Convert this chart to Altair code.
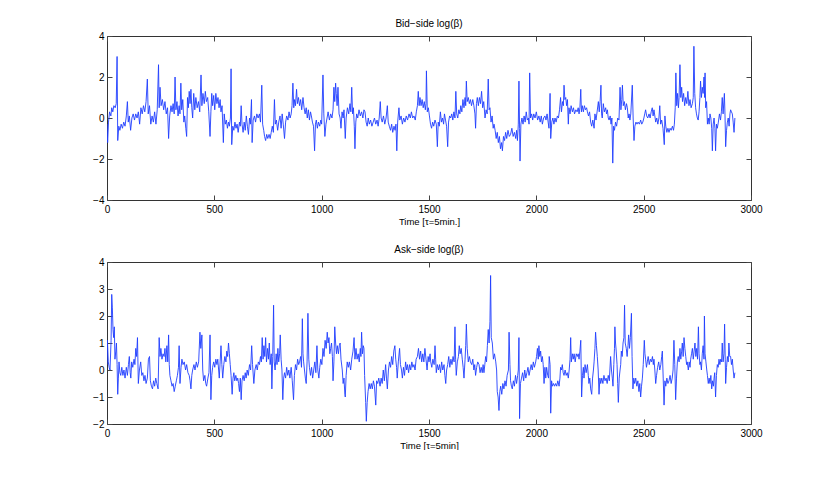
import altair as alt
import pandas as pd

# (time index, log(beta))
bid_points = [
    (0, -0.3), (3, -1.2), (7, -0.2), (12, 0.3), (18, 0.1), (22, 0.5), (27, 0.3), (32, 0.6), (38, 0.5), (43, 0.7),
    (47, 3.0), (50, -1.1), (55, -0.4), (60, -0.6), (66, -0.3), (72, -0.5), (78, -0.2), (84, -0.4), (90, 0.1), (95, 0.8),
    (99, -0.2), (104, 0.1), (110, -0.6), (116, 0.0), (122, 0.2), (128, -0.1), (134, 0.2), (140, 0.0), (146, 0.3), (152, -0.3),
    (158, 0.5), (164, 0.2), (170, 0.6), (176, 0.3), (182, 0.8), (188, 1.9), (192, 0.2), (198, 0.6), (204, -0.3), (210, 0.1),
    (216, -0.2), (222, 0.3), (228, -0.3), (234, 0.4), (240, 2.6), (243, 0.5), (247, 1.5), (252, 0.6), (258, 0.9), (264, 0.4),
    (270, 0.8), (276, 0.2), (282, 0.5), (287, -1.0), (292, 0.1), (298, 0.6), (303, 0.3), (308, 0.7), (313, 0.2), (317, 2.0),
    (321, 0.4), (326, 0.8), (331, 0.1), (336, 0.6), (340, 0.2), (344, 1.7), (348, 0.4), (353, 0.9), (358, -0.2), (362, 0.1),
    (367, -0.5), (371, -0.9), (375, 1.0), (379, 0.5), (383, 1.3), (387, 0.7), (391, 1.4), (395, 0.5), (399, 0.0), (404, 1.2),
    (409, 0.4), (414, 1.0), (420, 0.5), (426, 0.8), (432, 0.3), (438, 2.1), (442, 0.6), (447, 1.2), (453, 0.7), (458, 1.3),
    (463, 0.8), (469, 1.0), (474, 0.3), (480, -0.9), (484, 0.3), (488, 1.2), (492, 0.6), (497, 1.1), (502, 0.4), (507, 1.2),
    (512, 0.7), (517, 1.0), (522, 0.5), (527, 0.9), (531, 0.3), (536, 0.6), (542, -1.2), (546, 0.2), (551, -0.3), (556, -0.1),
    (561, -0.5), (566, -0.2), (570, -0.4), (575, 0.0), (578, 2.4), (581, -1.3), (586, -0.4), (591, -0.6), (596, -0.2), (601, -0.5),
    (606, -0.3), (611, -0.7), (617, -0.2), (621, -0.4), (625, 0.6), (629, -0.3), (634, -0.7), (639, -0.2), (644, -0.6), (649, 0.1),
    (654, -0.4), (659, -0.8), (664, 0.0), (668, -0.3), (673, 0.9), (676, -1.2), (681, -0.1), (687, 0.1), (692, -0.2), (698, 0.2),
    (704, 0.0), (710, 0.2), (715, -0.2), (721, 1.6), (725, -0.3), (730, -0.6), (734, -0.9), (739, -1.1), (744, -0.8), (749, -1.0),
    (755, -0.8), (760, -1.0), (765, -0.7), (770, -0.4), (775, -0.7), (780, 0.9), (784, -0.3), (789, -0.1), (795, -0.6), (800, -0.2),
    (806, 0.1), (811, -0.5), (816, 0.2), (821, -0.3), (827, -1.0), (832, -0.2), (837, 0.1), (843, -0.1), (848, 0.3), (853, 0.0),
    (858, 0.2), (862, 0.6), (866, 1.7), (870, 0.5), (874, 0.9), (878, 0.6), (883, 1.4), (887, 0.7), (892, 1.0), (897, 0.6),
    (902, 0.9), (907, 0.4), (913, 1.0), (918, 0.5), (923, 0.2), (928, 0.5), (933, 0.0), (938, 0.4), (943, -0.1), (948, 0.3),
    (952, 0.1), (957, -0.2), (962, -0.4), (967, -1.6), (971, -0.3), (975, -0.1), (980, -0.5), (985, -0.2), (991, -0.4), (996, -0.1),
    (1000, -0.3), (1006, 2.1), (1010, 0.2), (1015, -0.9), (1020, -0.3), (1025, 0.0), (1030, 0.3), (1036, -0.1), (1042, 0.2), (1048, 0.0),
    (1053, 0.4), (1057, 1.5), (1061, 0.8), (1065, 1.7), (1068, 1.2), (1072, 0.6), (1076, 1.5), (1081, 0.2), (1086, 0.0), (1090, -0.5),
    (1095, 0.3), (1100, 0.0), (1104, 0.4), (1110, -1.0), (1114, 0.0), (1120, 0.5), (1126, 0.2), (1132, 0.7), (1136, 0.3), (1140, 1.5),
    (1144, 0.2), (1148, 0.5), (1152, -0.4), (1155, -1.5), (1159, -0.2), (1163, 0.2), (1168, 0.0), (1174, 0.4), (1180, 0.1), (1186, 0.3),
    (1192, 0.0), (1197, 0.4), (1202, 0.3), (1207, -0.2), (1212, -0.4), (1217, 0.0), (1222, -0.3), (1228, -0.1), (1234, -0.4), (1240, -0.2),
    (1246, 0.0), (1252, -0.3), (1258, -0.1), (1263, -0.4), (1268, 0.0), (1273, 0.8), (1277, 0.0), (1282, -0.2), (1288, 0.1), (1294, -0.3),
    (1300, 0.0), (1306, 0.6), (1310, -0.2), (1315, -0.4), (1321, -0.6), (1326, -0.3), (1331, -0.7), (1337, -0.4), (1342, -0.6), (1346, -0.3),
    (1350, -1.6), (1354, -0.2), (1360, 0.5), (1364, -0.1), (1370, 0.1), (1376, -0.3), (1382, 0.0), (1388, -0.2), (1394, 0.1), (1400, -0.1),
    (1407, 0.2), (1413, 0.0), (1418, 0.3), (1424, 0.0), (1430, 0.1), (1436, -0.1), (1441, 0.3), (1446, 0.6), (1450, 1.3), (1454, 0.6),
    (1458, 1.0), (1463, 0.6), (1468, 0.9), (1473, 0.5), (1478, 0.8), (1483, 0.4), (1486, 0.7), (1488, 2.3), (1492, 0.3), (1497, 0.5),
    (1502, 0.1), (1507, -0.3), (1512, -0.5), (1517, -0.2), (1522, -0.4), (1528, -0.1), (1534, -0.3), (1539, -1.4), (1543, -0.2), (1548, -0.4),
    (1553, 0.3), (1558, -0.2), (1563, 0.0), (1568, -0.3), (1572, 0.2), (1577, -0.1), (1582, -0.4), (1587, -1.4), (1591, -0.2), (1596, 0.1),
    (1601, 0.0), (1606, 0.2), (1611, -0.1), (1616, 0.3), (1621, 0.0), (1625, 1.3), (1629, 0.2), (1634, 0.0), (1639, 0.4), (1644, 0.2),
    (1648, 0.6), (1653, 0.3), (1658, 0.9), (1663, 0.5), (1668, 1.0), (1671, 0.6), (1674, 1.8), (1678, 0.8), (1683, 1.0), (1688, 0.7),
    (1693, 0.9), (1698, 0.6), (1704, 0.9), (1709, 0.6), (1714, 0.2), (1717, -0.5), (1721, 0.7), (1725, 1.0), (1730, 0.6), (1735, 1.0),
    (1740, 0.7), (1745, 1.3), (1750, 0.5), (1755, 0.8), (1761, 0.0), (1766, 0.4), (1771, 0.2), (1776, 1.9), (1780, 0.4), (1784, 0.5),
    (1789, -0.2), (1794, 0.1), (1799, -0.5), (1803, -0.3), (1808, -0.6), (1813, -1.0), (1818, -0.7), (1823, -1.2), (1828, -0.9), (1833, -1.5),
    (1838, -1.2), (1842, -1.6), (1847, -0.9), (1852, -1.1), (1857, -0.7), (1862, -1.0), (1868, -0.6), (1874, -0.9), (1880, -0.8), (1886, -0.5),
    (1892, -0.9), (1898, -0.7), (1904, -1.0), (1908, -0.6), (1912, -1.1), (1916, -0.3), (1919, 1.8), (1922, -0.5), (1924, -2.1), (1928, -0.3),
    (1933, 0.0), (1938, -0.3), (1943, 0.1), (1948, -0.2), (1953, 0.3), (1958, -0.1), (1963, 0.0), (1966, -0.3), (1969, 2.2), (1973, 0.0),
    (1978, 0.2), (1983, -0.1), (1988, 0.2), (1994, 0.0), (2000, 0.3), (2006, -0.1), (2012, 0.1), (2018, -0.2), (2023, 0.1), (2028, -0.3),
    (2034, 0.0), (2040, 0.1), (2045, -0.1), (2050, 0.2), (2055, -0.2), (2059, -0.5), (2064, 1.2), (2067, -1.0), (2072, -0.2), (2077, 0.0),
    (2082, -0.3), (2087, 0.0), (2092, -0.2), (2098, 0.1), (2103, 0.0), (2108, 0.4), (2113, 1.0), (2117, 0.3), (2122, 0.8), (2126, 0.6),
    (2129, 1.6), (2133, 0.9), (2137, 1.0), (2141, 0.6), (2145, 0.9), (2149, -0.3), (2152, 0.5), (2157, 0.2), (2162, 0.6), (2168, 0.3),
    (2173, 0.5), (2178, 0.2), (2184, 0.4), (2190, 0.3), (2195, 0.5), (2199, 0.2), (2203, 0.5), (2207, 1.4), (2210, 0.3), (2214, 0.6),
    (2219, 0.3), (2224, 0.6), (2229, 0.4), (2234, 0.5), (2238, 0.3), (2243, 0.1), (2248, 0.3), (2253, -0.2), (2258, -0.4), (2263, -0.1),
    (2269, -0.5), (2273, 0.2), (2278, -0.1), (2283, 0.3), (2289, 0.8), (2293, 0.3), (2297, 0.8), (2301, 1.6), (2304, 0.2), (2307, 0.0),
    (2312, 0.7), (2317, 0.3), (2323, 0.5), (2327, 0.2), (2331, 0.4), (2335, 0.0), (2339, -0.1), (2344, 0.1), (2348, -0.3), (2352, 0.0),
    (2356, -2.2), (2360, -0.4), (2364, -0.6), (2369, -0.2), (2374, -0.4), (2379, 0.0), (2385, -0.1), (2390, 1.5), (2394, 0.4), (2398, 0.9),
    (2401, 1.6), (2405, 0.6), (2410, 0.8), (2415, 0.4), (2420, 0.7), (2424, 0.5), (2428, 0.0), (2432, 0.2), (2436, -0.1), (2440, 0.2),
    (2447, 1.6), (2451, 0.0), (2455, -1.1), (2459, -0.4), (2464, -0.2), (2469, -0.3), (2474, -0.2), (2480, -0.3), (2486, -0.1), (2491, -0.3),
    (2496, -0.2), (2501, 0.0), (2505, 0.2), (2509, 0.4), (2514, 0.1), (2519, 0.0), (2525, 0.2), (2530, 0.0), (2535, 0.3), (2540, 0.5),
    (2544, 0.1), (2548, 0.4), (2552, 0.1), (2556, -0.2), (2561, 0.0), (2566, -0.3), (2571, 0.0), (2575, 0.6), (2579, -0.3), (2584, -0.1),
    (2590, -0.5), (2596, -1.3), (2599, 0.1), (2603, -0.4), (2608, -0.7), (2613, -0.5), (2618, -0.7), (2623, -0.5), (2628, -0.6), (2634, -0.4),
    (2639, -0.6), (2643, -0.3), (2647, 0.5), (2650, 2.2), (2654, 0.6), (2658, 1.2), (2662, 0.5), (2665, 1.0), (2669, 2.6), (2673, 1.0),
    (2677, 1.5), (2681, 0.8), (2686, 1.2), (2691, 0.6), (2696, 1.0), (2701, 0.7), (2706, 1.3), (2711, 0.6), (2716, 0.9), (2721, 0.5),
    (2727, 0.7), (2731, 1.0), (2734, 3.5), (2738, 1.2), (2742, 0.5), (2746, 0.2), (2750, 0.0), (2754, -0.1), (2758, 0.3), (2762, 1.0),
    (2765, 1.8), (2769, 1.0), (2773, 1.5), (2777, 1.2), (2781, 2.0), (2784, 1.0), (2786, 2.2), (2789, 0.5), (2793, 0.8), (2797, -0.3),
    (2801, 0.0), (2805, -0.3), (2809, 0.2), (2813, 0.0), (2817, -0.5), (2820, -1.6), (2824, -0.3), (2828, 0.0), (2832, -0.5), (2835, -1.6),
    (2839, -0.3), (2843, -0.5), (2848, -0.2), (2853, 0.2), (2858, -0.1), (2862, 0.3), (2866, 1.0), (2870, 0.2), (2876, 1.2), (2879, 0.1),
    (2882, -1.4), (2886, -0.6), (2890, -0.2), (2894, 0.0), (2898, -0.4), (2902, 0.2), (2905, 0.4), (2909, 0.3), (2913, 0.2), (2917, -0.2),
    (2921, -0.7), (2925, 0.0),
]

ask_points = [
    (0, 0.2), (2, 1.1), (6, 0.3), (10, 0.1), (14, 0.0), (19, 1.1), (22, 2.8), (25, 2.3), (28, 1.5), (31, 1.2),
    (34, 1.6), (37, 0.4), (41, 0.7), (44, 1.0), (47, 0.2), (50, -0.9), (53, -0.3), (56, 0.3), (60, -0.1), (64, -0.2),
    (69, 0.1), (74, -0.2), (79, 0.0), (84, -0.3), (90, 0.1), (95, -0.2), (100, 0.2), (104, 0.5), (108, -0.1), (111, -0.3),
    (115, 0.3), (120, 0.1), (126, 0.4), (130, 0.2), (134, 0.8), (138, 0.5), (142, 1.2), (146, -0.5), (151, 0.0), (157, 0.3),
    (162, -0.2), (167, -0.1), (172, -0.4), (177, -0.2), (182, -0.5), (188, -0.3), (193, 0.4), (198, 0.5), (202, -0.4), (207, -0.6),
    (212, -0.7), (217, -0.4), (222, -0.6), (227, -0.3), (232, -0.5), (238, -0.7), (243, 1.2), (247, 0.5), (251, 0.8), (256, 0.4),
    (261, 0.6), (266, 0.5), (270, 0.8), (274, 0.3), (279, 0.9), (283, 0.3), (287, 1.3), (290, 0.2), (293, -0.2), (298, -0.4),
    (303, -0.6), (308, -0.5), (313, -0.8), (318, -0.6), (323, -0.4), (328, -0.2), (333, 0.1), (336, 0.9), (340, -0.5), (345, 0.1),
    (349, 0.4), (354, 0.2), (360, 0.3), (366, 0.0), (371, 0.2), (377, -0.1), (383, -0.2), (387, -0.4), (391, -0.7), (395, -0.2),
    (399, 0.0), (405, 0.2), (410, 0.0), (416, 0.3), (421, 0.1), (427, 0.3), (433, 1.4), (437, 0.8), (442, 1.3), (446, 0.0),
    (450, -0.4), (456, -0.2), (460, -0.5), (464, -0.6), (470, -0.3), (475, -0.1), (480, 1.3), (484, -1.1), (488, -0.2), (492, 0.1),
    (497, 0.3), (502, 0.1), (507, 0.4), (512, 0.2), (516, 0.4), (520, 0.0), (523, -0.3), (527, 0.3), (531, 0.9), (535, 0.2),
    (539, -0.3), (544, 0.2), (549, 0.5), (554, 0.3), (558, 0.7), (562, 0.5), (566, 1.0), (570, 0.6), (574, 0.2), (578, -0.2),
    (583, -0.9), (587, -0.3), (591, -0.1), (595, -0.4), (600, -0.2), (605, -0.4), (609, -0.3), (613, -0.5), (617, -0.8), (621, -0.3),
    (625, -1.1), (629, -0.4), (634, -0.2), (639, -0.4), (644, -0.1), (648, -0.3), (653, 0.0), (658, -0.2), (664, 0.2), (669, 0.0),
    (674, 0.9), (678, 0.2), (684, -0.5), (689, 0.0), (695, 0.2), (700, 0.0), (705, 0.3), (710, 0.2), (715, 0.5), (719, 0.3),
    (723, 1.2), (727, 0.4), (731, 0.9), (735, 0.5), (739, 1.2), (743, 0.3), (748, 0.8), (752, 0.4), (756, 1.0), (760, 0.2),
    (765, 0.6), (768, -0.7), (772, 0.5), (776, 2.4), (779, 0.3), (783, 0.0), (788, 0.6), (792, 0.2), (796, 0.8), (800, 0.3),
    (804, 0.6), (807, 1.3), (811, 0.4), (815, 0.0), (819, -1.1), (823, -0.3), (827, -0.1), (832, -0.3), (837, 0.1), (842, -0.2),
    (847, 0.0), (852, -0.3), (858, 0.1), (863, -0.4), (869, -1.1), (873, -0.2), (878, 0.2), (883, 0.0), (888, 0.4), (893, 0.2),
    (897, 0.3), (902, 0.5), (906, 0.1), (910, 1.9), (913, 0.6), (916, 0.3), (920, 0.0), (924, -0.3), (928, -0.5), (932, 0.3),
    (936, 2.1), (940, 0.4), (943, 0.1), (948, -0.2), (953, 0.1), (958, -0.3), (963, 0.0), (968, 0.3), (973, -0.1), (978, 0.9),
    (982, 0.0), (987, -0.3), (991, 0.1), (996, 0.4), (1001, 0.2), (1006, 0.8), (1011, 0.5), (1016, 1.1), (1021, 0.8), (1026, 1.4),
    (1030, 1.0), (1034, 1.2), (1038, 0.6), (1042, 0.8), (1046, 1.0), (1050, 0.5), (1053, -0.4), (1057, 0.3), (1061, 1.6), (1065, 1.0),
    (1069, 0.6), (1073, 0.9), (1078, 0.6), (1082, 0.9), (1086, 1.0), (1090, 0.4), (1096, 0.0), (1100, -0.5), (1104, -0.3), (1108, -0.9),
    (1110, -1.0), (1114, -0.2), (1119, 0.3), (1124, 0.1), (1129, 0.3), (1135, 0.0), (1140, 0.4), (1146, 0.7), (1151, 1.2), (1155, 0.4),
    (1160, 0.8), (1165, 0.4), (1170, 0.6), (1175, 0.3), (1180, 0.8), (1183, 0.5), (1186, 1.4), (1190, 0.6), (1194, 0.9), (1197, 0.8),
    (1200, -0.2), (1205, -1.2), (1208, -1.9), (1212, -1.2), (1216, -0.8), (1221, -0.5), (1226, -0.7), (1231, -0.5), (1236, -0.7), (1241, -0.4),
    (1246, -0.6), (1252, -1.3), (1256, -0.4), (1261, -0.5), (1266, -0.3), (1272, -0.6), (1277, -0.3), (1282, -0.5), (1287, 0.0), (1292, -0.4),
    (1298, 0.2), (1302, -0.3), (1306, -0.7), (1311, 0.0), (1316, 0.3), (1321, 0.1), (1326, 0.5), (1331, 0.2), (1336, 0.7), (1341, 0.9),
    (1345, 0.4), (1349, 0.1), (1352, -0.3), (1357, 0.3), (1363, 0.8), (1367, 0.2), (1372, 0.0), (1376, -0.3), (1381, 0.1), (1386, -0.2),
    (1391, 0.3), (1396, 0.0), (1400, 0.2), (1405, -0.1), (1410, 0.2), (1415, 0.0), (1420, 0.3), (1425, 0.1), (1430, 0.2), (1435, 0.0),
    (1440, 0.4), (1446, 0.5), (1451, 0.8), (1456, 0.4), (1461, 0.7), (1466, 0.3), (1471, 0.6), (1476, 0.3), (1481, 0.8), (1486, 0.4),
    (1491, 0.0), (1496, 0.5), (1500, 0.3), (1505, 0.6), (1508, 0.3), (1513, 0.1), (1518, 0.4), (1524, 0.2), (1528, 0.9), (1531, 0.4),
    (1534, -0.1), (1539, 0.2), (1544, 0.0), (1549, 0.2), (1554, -0.1), (1559, 0.3), (1564, 0.0), (1570, 0.2), (1574, -0.2), (1578, -0.5),
    (1582, 0.0), (1587, 0.2), (1592, 0.5), (1597, 0.1), (1602, 0.4), (1607, 0.2), (1612, 0.5), (1617, 0.3), (1621, 1.6), (1624, 0.4),
    (1627, -0.2), (1632, 0.3), (1637, 0.5), (1641, 0.9), (1645, 0.6), (1650, 0.8), (1655, 0.4), (1659, 0.1), (1663, -0.3), (1668, 0.4),
    (1671, 0.9), (1674, 1.7), (1678, 0.8), (1683, 0.3), (1688, 0.5), (1693, 0.3), (1699, 0.2), (1704, 0.4), (1709, 0.0), (1713, 0.2),
    (1717, -0.2), (1722, 0.1), (1727, 0.3), (1733, 0.2), (1738, -0.1), (1743, 0.1), (1748, -0.1), (1752, 0.2), (1756, -0.1), (1760, 0.2),
    (1764, 0.5), (1768, 0.3), (1772, 0.9), (1776, 1.5), (1780, 1.0), (1784, 1.8), (1787, 3.5), (1790, 1.2), (1795, 1.0), (1800, 0.4),
    (1805, 0.6), (1811, 0.3), (1815, 0.0), (1818, -0.8), (1822, -1.0), (1826, -1.5), (1830, -0.8), (1834, -0.6), (1839, -0.9), (1844, -0.5),
    (1849, -0.7), (1854, -0.4), (1859, -0.6), (1864, -0.2), (1870, 0.0), (1873, 1.4), (1877, 0.2), (1880, -0.4), (1884, -0.6), (1888, -0.7),
    (1893, -0.4), (1898, -0.6), (1903, -0.2), (1908, -0.5), (1913, -0.2), (1916, 0.0), (1919, 1.2), (1922, -1.8), (1926, -0.5), (1931, -0.3),
    (1936, -0.1), (1941, -0.4), (1946, 0.0), (1951, -0.3), (1956, -0.1), (1961, 0.1), (1966, -0.2), (1971, 0.0), (1976, 0.2), (1981, 0.0),
    (1986, 0.3), (1991, 0.1), (1997, 0.3), (2001, 0.5), (2005, 0.8), (2009, 0.4), (2012, 0.9), (2016, 0.5), (2020, 0.7), (2024, 0.3),
    (2028, 0.5), (2032, 0.2), (2036, -0.5), (2040, 0.1), (2044, -0.3), (2048, 0.1), (2053, -0.2), (2057, -0.3), (2060, 0.5), (2064, 0.2),
    (2067, -1.6), (2071, -0.4), (2075, -0.6), (2080, -0.5), (2085, -0.6), (2090, -0.5), (2095, -0.6), (2100, -0.4), (2106, -0.6), (2110, -0.3),
    (2113, 0.1), (2117, 0.0), (2121, 0.2), (2125, -0.1), (2129, -0.2), (2134, 0.0), (2139, -0.2), (2144, -0.1), (2149, -0.3), (2153, 0.0),
    (2157, 0.4), (2160, 1.2), (2163, 0.3), (2168, 0.6), (2172, 0.4), (2176, 0.6), (2181, 0.3), (2186, 0.6), (2191, 0.5), (2195, 0.6),
    (2199, 0.4), (2203, 0.7), (2207, 1.1), (2211, -1.0), (2215, -0.2), (2219, 0.1), (2222, -0.3), (2227, 0.2), (2232, -0.1), (2238, 0.2),
    (2242, -0.2), (2245, -0.5), (2249, -0.3), (2253, -0.7), (2258, -0.9), (2262, -0.3), (2266, 0.0), (2269, 0.3), (2273, 0.8), (2276, 1.4),
    (2280, 0.9), (2284, 0.5), (2288, 0.0), (2292, -0.9), (2296, -0.3), (2300, -0.5), (2305, -0.3), (2310, -0.5), (2315, -0.2), (2320, -0.4),
    (2325, -0.3), (2330, -0.5), (2335, -0.2), (2340, -0.4), (2346, 0.5), (2350, 0.0), (2354, -0.3), (2357, -0.6), (2361, 0.2), (2364, 0.8),
    (2366, 1.6), (2369, 1.0), (2372, 0.7), (2376, 0.2), (2379, -0.5), (2382, -1.2), (2386, -0.3), (2390, 0.0), (2393, 0.2), (2396, 0.7),
    (2400, 0.5), (2404, 1.0), (2408, 1.2), (2411, 2.4), (2414, 1.0), (2419, 0.8), (2423, 0.5), (2427, 0.9), (2430, 1.3), (2434, 0.8),
    (2438, 1.2), (2443, 2.1), (2446, 0.5), (2450, -0.7), (2454, -0.3), (2458, -0.5), (2463, -0.3), (2468, -0.6), (2473, -0.4), (2478, -0.8),
    (2482, -0.5), (2486, -1.0), (2490, -0.6), (2494, -0.3), (2498, 0.2), (2503, 1.1), (2506, 0.6), (2509, 0.4), (2513, 0.1), (2517, 0.3),
    (2521, 0.5), (2526, 0.2), (2531, 0.4), (2536, 0.3), (2541, 0.5), (2545, 0.2), (2548, 0.4), (2552, 0.0), (2556, -0.5), (2560, -0.2),
    (2565, 0.1), (2570, 0.3), (2575, 0.0), (2580, 0.2), (2584, 0.5), (2587, 0.7), (2591, -0.3), (2595, -1.3), (2599, -0.4), (2603, -0.6),
    (2608, -0.3), (2613, -0.5), (2618, -0.4), (2623, -0.2), (2628, -0.5), (2633, -0.3), (2637, 0.0), (2641, 1.1), (2645, 0.2), (2649, -1.1),
    (2653, -0.3), (2657, 0.3), (2661, 0.5), (2665, 0.3), (2669, 0.8), (2673, 0.4), (2677, 0.7), (2680, 1.0), (2684, 0.5), (2688, 1.2),
    (2692, 0.8), (2696, 0.5), (2700, 0.2), (2703, 0.3), (2708, 0.0), (2712, 0.3), (2716, 0.1), (2719, 0.4), (2723, 0.6), (2727, 0.8),
    (2731, 0.4), (2735, 0.7), (2739, 1.0), (2743, 0.5), (2747, 0.8), (2751, 0.4), (2755, 1.6), (2758, 0.6), (2762, 0.2), (2765, 0.3),
    (2769, 0.0), (2773, 0.6), (2777, 0.9), (2781, 0.4), (2783, 2.0), (2786, 0.6), (2790, 0.3), (2794, 0.0), (2797, -0.2), (2801, -0.5),
    (2805, -0.3), (2809, -0.5), (2813, -0.2), (2817, -0.7), (2821, -0.4), (2825, -0.6), (2828, -0.3), (2831, -0.1), (2835, -1.0), (2839, -0.2),
    (2843, 0.2), (2847, 0.1), (2851, 0.4), (2855, 0.2), (2859, 0.4), (2863, 0.3), (2866, 1.0), (2870, 0.3), (2874, 0.6), (2877, 1.7),
    (2880, 0.4), (2882, -0.5), (2886, 0.1), (2890, 0.5), (2894, 0.3), (2897, 1.0), (2901, 0.5), (2905, 0.5), (2909, 0.2), (2913, 0.4),
    (2917, 0.0), (2921, -0.3), (2925, -0.1),
]

x_ticks = [0, 500, 1000, 1500, 2000, 2500, 3000]
bid_y_ticks = [-4, -2, 0, 2, 4]
ask_y_ticks = [-2, -1, 0, 1, 2, 3, 4]

FONT = "Liberation Sans"


def panel(points, title, xtitle, ydomain, yticks, height):
    df = pd.DataFrame(points, columns=["t", "v"])
    xs = alt.Scale(domain=[0, 3000], nice=False, zero=False)
    ys = alt.Scale(domain=ydomain, nice=False, zero=False)
    common = dict(grid=False, domain=False, tickSize=5, offset=-5,
                  tickColor="#444444", tickWidth=1, labelFlush=False)
    base = alt.Chart(df)
    line = base.mark_line(color="#1f3dff", strokeWidth=0.9, clip=True).encode(
        x=alt.X("t:Q", scale=xs,
                axis=alt.Axis(values=x_ticks, title=xtitle, labelPadding=4, titlePadding=2,
                              format="d", **common)),
        y=alt.Y("v:Q", scale=ys,
                axis=alt.Axis(values=yticks, title=None, labelPadding=3, format="d", **common)),
    )
    ghost = base.mark_line(opacity=0).encode(
        x=alt.X("t:Q", scale=xs,
                axis=alt.Axis(values=x_ticks, orient="top", labels=False, title=None, **common)),
        y=alt.Y("v:Q", scale=ys,
                axis=alt.Axis(values=yticks, orient="right", labels=False, title=None, **common)),
    )
    return (
        alt.layer(line, ghost)
        .resolve_axis(x="independent", y="independent")
        .properties(
            width=644, height=height,
            title=alt.TitleParams(title, fontSize=10, font=FONT, fontWeight="normal",
                                  color="black", offset=2, anchor="middle"),
        )
    )


top = panel(bid_points, "Bid\u2212side log(\u03b2)", "Time [\u03c4=5min.]", [-4, 4], bid_y_ticks, 164)
bottom = panel(ask_points, "Ask\u2212side log(\u03b2)", "Time [\u03c4=5min]", [-2, 4], ask_y_ticks, 162)

chart = (
    alt.vconcat(top, bottom, spacing=18)
    .properties(padding={"left": 84, "top": 10, "right": 0, "bottom": 0}, background="white")
    .configure_view(stroke="#333333", strokeWidth=1)
    .configure_axis(labelFont=FONT, labelFontSize=10, labelColor="black",
                    titleFont=FONT, titleFontSize=9.5, titleFontWeight="normal", titleColor="black")
)

chart.save("out.html", embed_options={"renderer": "svg", "actions": False})
